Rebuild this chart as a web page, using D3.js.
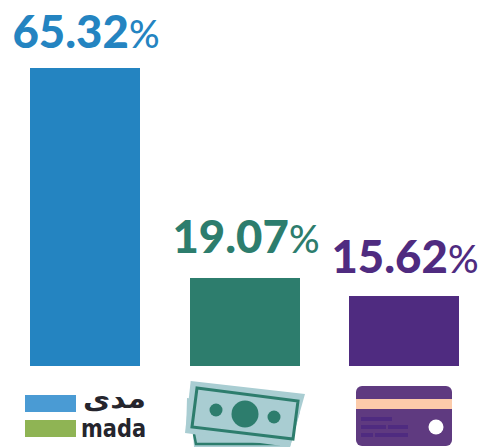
<!DOCTYPE html>
<html>
<head>
<meta charset="utf-8">
<style>
html, body { margin: 0; padding: 0; background: #fff; }
svg { display: block; }
text { font-family: Lato, sans-serif; }
</style>
<script src="https://cdn.jsdelivr.net/npm/d3@7"></script>
</head>
<body>
<div class="graphic"></div>
<script>
const categories = ['mada', 'cash', 'card']
const shares = [65.32, 19.07, 15.62]
// bar lengths, they are a little off the printed shares
const barValues = [65.32, 19.29, 15.34]
const colors = ['#2484c1', '#2d7d6d', '#4f2b80']

const width = 482
const height = 447
const base = 366
const barW = 110
const barX = [30, 190, 349]
const labelGap = [20, 25, 23]

const svg = d3.select('.graphic').append('svg')
	.attr('width', width)
	.attr('height', height)

const scale = {
	x: d3.scaleOrdinal().domain(categories).range(barX),
	y: d3.scaleLinear().domain([0, 65.32]).range([base, 68]),
}

const bars = svg.selectAll('.bar')
	.data(categories)
	.enter().append('g')
	.attr('class', 'bar')

bars.append('rect')
	.attr('x', d => scale.x(d))
	.attr('y', (d, i) => scale.y(barValues[i]))
	.attr('width', barW)
	.attr('height', (d, i) => base - scale.y(barValues[i]))
	.attr('fill', (d, i) => colors[i])

const labels = bars.append('text')
	.attr('x', d => scale.x(d) + barW / 2 + 1)
	.attr('y', (d, i) => scale.y(barValues[i]) - labelGap[i])
	.attr('text-anchor', 'middle')
	.attr('fill', (d, i) => colors[i])
	.attr('font-size', 45.5)
	.attr('font-weight', 900)

labels.append('tspan').text((d, i) => shares[i].toFixed(2))
labels.append('tspan')
	.attr('font-size', 38)
	.attr('font-weight', 500)
	.text('%')

// mada logo
const mada = svg.append('g')
mada.append('rect').attr('x', 25).attr('y', 395).attr('width', 51).attr('height', 17).attr('fill', '#4a9bd4')
mada.append('rect').attr('x', 25).attr('y', 420).attr('width', 51).attr('height', 17).attr('fill', '#8fb454')
mada.append('text')
	.attr('x', 83).attr('y', 408)
	.attr('textLength', 63)
	.attr('lengthAdjust', 'spacingAndGlyphs')
	.attr('font-size', 26)
	.attr('font-weight', 700)
	.attr('fill', '#25252d')
	.style('font-family', '"DejaVu Sans", sans-serif')
	.text('مدى')
mada.append('text')
	.attr('x', 81).attr('y', 437)
	.attr('textLength', 65)
	.attr('lengthAdjust', 'spacingAndGlyphs')
	.attr('font-size', 25)
	.attr('font-weight', 700)
	.attr('fill', '#25252d')
	.style('font-family', '"DejaVu Sans", sans-serif')
	.text('mada')

// cash icon
const line = d3.line()
const cash = svg.append('g')
cash.append('path')
	.attr('d', line([[187, 398], [300, 412], [290, 447], [194, 447], [193, 433], [186, 433]]) + 'Z')
	.attr('fill', '#a9cdd2')
cash.append('path')
	.attr('d', line([[194, 434], [196, 444], [280, 444]]))
	.attr('fill', 'none')
	.attr('stroke', '#2d7d6d')
	.attr('stroke-width', 2.5)
cash.append('path')
	.attr('d', line([[190.7, 381], [305, 394], [290, 447], [185, 433]]) + 'Z')
	.attr('fill', '#a9cdd2')
cash.append('path')
	.attr('d', line([[197, 388], [298, 401], [293, 439], [192, 427]]) + 'Z')
	.attr('fill', 'none')
	.attr('stroke', '#2d7d6d')
	.attr('stroke-width', 3)
cash.selectAll('circle')
	.data([[245, 414, 13.5], [216, 410, 6.5], [274, 417, 6.5]])
	.enter().append('circle')
	.attr('cx', d => d[0])
	.attr('cy', d => d[1])
	.attr('r', d => d[2])
	.attr('fill', '#2d7d6d')

// card icon
const card = svg.append('g')
card.append('rect').attr('x', 356).attr('y', 386).attr('width', 96).attr('height', 60).attr('rx', 6).attr('fill', '#5f3a80')
card.append('rect').attr('x', 356).attr('y', 399).attr('width', 96).attr('height', 10).attr('fill', '#fccbaa')
card.selectAll('.strip')
	.data([[361, 417, 31], [361, 425, 25], [388, 425, 20], [361, 433, 12], [375, 433, 33]])
	.enter().append('rect')
	.attr('class', 'strip')
	.attr('x', d => d[0])
	.attr('y', d => d[1])
	.attr('width', d => d[2])
	.attr('height', 4)
	.attr('fill', '#4f2b80')
card.append('circle').attr('cx', 436).attr('cy', 427).attr('r', 7.5).attr('fill', '#fff')
</script>
</body>
</html>
